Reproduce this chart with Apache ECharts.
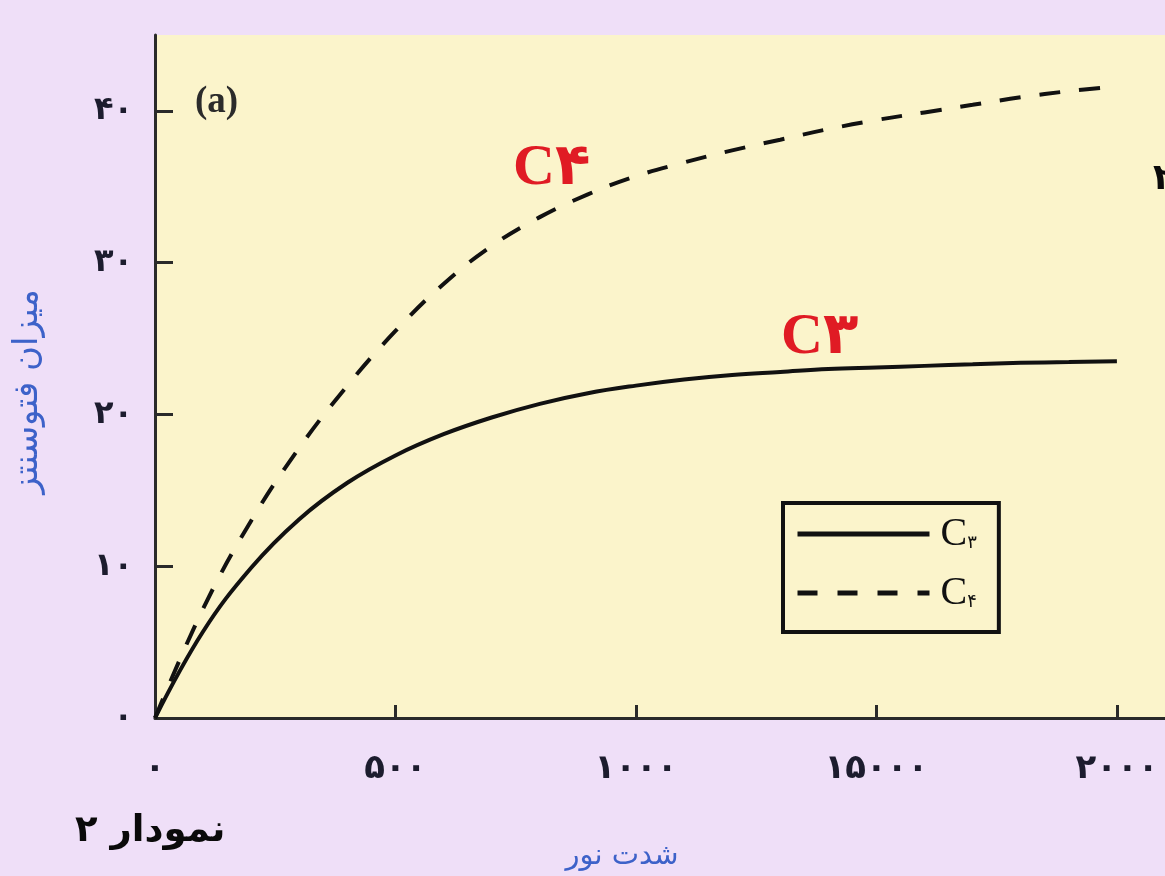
<!DOCTYPE html>
<html><head><meta charset="utf-8">
<script src="https://cdn.jsdelivr.net/npm/echarts@6/dist/echarts.min.js"></script>
<style>html,body{margin:0;padding:0;background:#EFDFF8}#chart{width:1165px;height:876px}</style>
</head><body><div id="chart"></div>
<script>
// Light intensity (x) and photosynthesis rate (y)
const lightLevels = [0, 100, 200, 300, 400, 500, 600, 700, 800, 900, 1000, 1100, 1200, 1300, 1400, 1500, 1600, 1700, 1800, 1900, 2000];
const c3Rate = [0, 5.7, 9.9, 13.1, 15.5, 17.3, 18.7, 19.8, 20.7, 21.4, 21.9, 22.3, 22.6, 22.8, 23.0, 23.1, 23.2, 23.3, 23.4, 23.45, 23.5];
const c4Rate = [0, 7.2, 13.0, 17.8, 21.9, 25.5, 28.6, 31.1, 33.0, 34.5, 35.7, 36.6, 37.4, 38.1, 38.8, 39.4, 39.9, 40.4, 40.9, 41.3, 41.6];

const xTickValues = [0, 500, 1000, 1500, 2000];
const xTickLabels = ['۰', '۵۰۰', '۱۰۰۰', '۱۵۰۰۰', '۲۰۰۰'];
const yTickValues = [0, 10, 20, 30, 40];
const yTickLabels = ['۰', '۱۰', '۲۰', '۳۰', '۴۰'];

const seriesNames = ['C۳', 'C۴'];
const subDigits = ['۳', '۴'];

const pairs = (xs, ys) => xs.map((x, i) => [x, ys[i]]);
const persianFont = "'DejaVu Sans', 'Noto Sans', sans-serif";
const serifFont = "'Liberation Serif', 'DejaVu Serif', serif";

const chart = echarts.init(document.getElementById('chart'));
chart.setOption({
  backgroundColor: '#EFDFF8',
  animation: false,
  grid: { left: 155, right: 0, top: 35, bottom: 156, show: true, backgroundColor: '#FBF4CB', borderWidth: 0 },
  xAxis: {
    type: 'value', min: 0, max: 2100,
    name: 'شدت نور', nameLocation: 'middle', nameGap: 124,
    nameTextStyle: { fontFamily: persianFont, fontSize: 29, color: '#3D62C9', padding: [0, 76, 0, 0] },
    axisLine: { show: true, lineStyle: { color: '#2A2A2A', width: 3 } },
    axisTick: { show: true, inside: true, length: 13, customValues: xTickValues, lineStyle: { color: '#2A2A2A', width: 3 } },
    axisLabel: {
      customValues: xTickValues, margin: 34,
      formatter: v => xTickLabels[xTickValues.indexOf(v)],
      fontFamily: persianFont, fontWeight: 'bold', fontSize: 34, color: '#1C1C2E'
    },
    splitLine: { show: false }
  },
  yAxis: {
    type: 'value', min: 0, max: 45,
    name: 'میزان فتوسنتز', nameLocation: 'middle', nameGap: 110,
    nameTextStyle: { fontFamily: persianFont, fontSize: 34, color: '#3D62C9', padding: [0, 30, 0, 0] },
    axisLine: { show: true, lineStyle: { color: '#2A2A2A', width: 3 } },
    axisTick: { show: true, inside: true, length: 18, customValues: yTickValues.slice(1), lineStyle: { color: '#2A2A2A', width: 3 } },
    axisLabel: {
      customValues: yTickValues, margin: 22,
      formatter: v => yTickLabels[yTickValues.indexOf(v)],
      fontFamily: persianFont, fontWeight: 'bold', fontSize: 32, color: '#1C1C2E'
    },
    splitLine: { show: false }
  },
  legend: {
    orient: 'vertical', left: 783, top: 503,
    data: [
      { name: seriesNames[0], lineStyle: { color: '#111', width: 5, type: 'solid' } },
      { name: seriesNames[1], lineStyle: { color: '#111', width: 5, type: [20, 20] } }
    ],
    itemStyle: { color: 'rgba(0,0,0,0)', borderWidth: 0 },
    borderColor: '#111', borderWidth: 4, borderRadius: 0,
    padding: [11, 22, 19, 12],
    itemWidth: 132, itemHeight: 14, itemGap: 19,
    formatter: name => '{c|C}{s|' + subDigits[seriesNames.indexOf(name)] + '}',
    textStyle: {
      padding: [0, 0, 0, 6],
      rich: {
        c: { fontFamily: serifFont, fontSize: 40, lineHeight: 36, color: '#111' },
        s: { fontFamily: persianFont, fontSize: 18, lineHeight: 16, verticalAlign: 'bottom', color: '#111' }
      }
    }
  },
  series: [
    { name: seriesNames[0], type: 'line', data: pairs(lightLevels, c3Rate), smooth: 0.4, symbol: 'none', showSymbol: false,
      lineStyle: { color: '#111', width: 4, type: 'solid' }, itemStyle: { color: '#111' } },
    { name: seriesNames[1], type: 'line', data: pairs(lightLevels, c4Rate), smooth: 0.4, symbol: 'none', showSymbol: false,
      lineStyle: { color: '#111', width: 4, type: [21, 19] }, itemStyle: { color: '#111' } }
  ],
  graphic: [
    { type: 'text', left: 195, top: 84, style: { text: '(a)', font: "bold 37px 'Liberation Serif', serif", fill: '#2B2B2B' } },
    { type: 'text', left: 513, top: 140, style: { text: 'C۴', font: "bold 58px 'Liberation Serif', 'DejaVu Sans', serif", fill: '#E01B24' } },
    { type: 'text', left: 781, top: 309, style: { text: 'C۳', font: "bold 58px 'Liberation Serif', 'DejaVu Sans', serif", fill: '#E01B24' } },
    { type: 'text', left: 75, top: 813, style: { text: 'نمودار ۲', font: "bold 37px 'DejaVu Sans', sans-serif", fill: '#0A0A0A' } },
    { type: 'text', left: 1153, top: 162, style: { text: '۲', font: "bold 36px 'DejaVu Sans', sans-serif", fill: '#0A0A0A' } }
  ]
});
</script></body></html>
